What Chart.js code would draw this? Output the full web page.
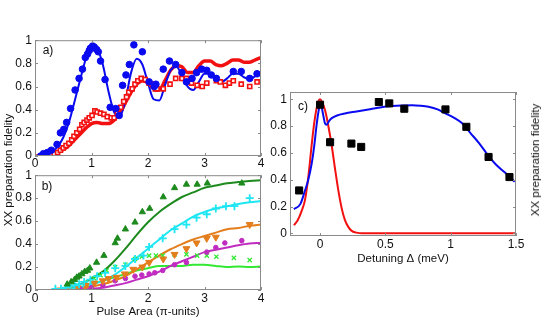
<!DOCTYPE html>
<html>
<head>
<meta charset="utf-8">
<script src="https://cdn.jsdelivr.net/npm/chart.js@4.4.0/dist/chart.umd.min.js"></script>
<style>
  body { margin: 0; width: 550px; height: 327px; background: #fff; position: relative; overflow: hidden;
         font-family: "Liberation Sans", Arial, sans-serif; color: #111; }
  canvas { position: absolute; }
  .lbl { position: absolute; font-size: 12px; transform: translate(-50%, -50%); white-space: nowrap; }
  .ytitle { position: absolute; font-size: 11.5px; white-space: nowrap; transform: translate(-50%, -50%) rotate(-90deg); }
</style>
</head>
<body>
<canvas id="chartA" width="270" height="140" style="left:0;top:30px"></canvas>
<canvas id="chartB" width="270" height="162" style="left:0;top:165px"></canvas>
<canvas id="chartC" width="300" height="190" style="left:250px;top:80px"></canvas>
<div class="ytitle" style="left:8px;top:170px">XX preparation fidelity</div>
<div class="ytitle" style="left:535px;top:160px">XX preparation fidelity</div>
<div class="lbl" style="left:48px;top:50px">a)</div>
<div class="lbl" style="left:47px;top:186px">b)</div>
<div class="lbl" style="left:303px;top:106px">c)</div>
<script>
// tick values
const pulseTicks = [0, 1, 2, 3, 4];
const detuningTicks = [0, 0.5, 1, 1.5];
const fidelityTicks = [0, 0.2, 0.4, 0.6, 0.8, 1];

// --- panel a: measured points and model curves (pulse area in pi-units)
const aBlueX = [0.1,0.15,0.22,0.29,0.39,0.45,0.51,0.56,0.63,0.71,0.78,0.84,0.89,0.93,0.96,0.98,1.02,1.05,1.09,1.12,1.16,1.24,1.33,1.43,1.49,1.55,1.61,1.67,1.75,1.9,2.02,2.11,2.14,2.27,2.38,2.49,2.6,2.68,2.78,2.86,2.95,3.04,3.12,3.21,3.51,3.65,3.8,3.93];
const aBlueY = [0.0,0.02,0.03,0.05,0.10,0.2,0.23,0.29,0.41,0.57,0.67,0.75,0.85,0.88,0.91,0.93,0.95,0.94,0.92,0.90,0.82,0.66,0.42,0.41,0.35,0.61,0.7,0.79,0.96,0.90,0.64,0.60,0.62,0.75,0.82,0.79,0.72,0.64,0.67,0.72,0.75,0.74,0.70,0.67,0.73,0.73,0.67,0.71];
const aRedX = [0.27,0.34,0.4,0.45,0.5,0.55,0.6,0.65,0.69,0.74,0.79,0.83,0.87,0.92,0.96,1.01,1.06,1.1,1.16,1.22,1.28,1.35,1.4,1.46,1.52,1.57,1.62,1.66,1.72,1.77,1.82,1.88,1.95,2.02,2.07,2.13,2.16,2.27,2.39,2.49,2.6,2.68,2.77,2.87,2.96,3.04,3.21,3.28,3.37,3.44,3.51,3.65,3.8,3.93];
const aRedY = [0.01,0.02,0.03,0.05,0.07,0.09,0.11,0.14,0.17,0.2,0.23,0.27,0.29,0.31,0.33,0.35,0.39,0.38,0.37,0.36,0.34,0.33,0.33,0.37,0.42,0.47,0.51,0.55,0.58,0.62,0.65,0.67,0.66,0.63,0.62,0.58,0.58,0.58,0.62,0.67,0.67,0.67,0.63,0.61,0.60,0.63,0.65,0.64,0.61,0.63,0.65,0.62,0.60,0.64];
const aLineX = [0,0.1,0.2,0.3,0.4,0.5,0.6,0.7,0.8,0.9,1.0,1.1,1.2,1.3,1.4,1.5,1.6,1.7,1.8,1.9,2.0,2.1,2.2,2.3,2.4,2.5,2.6,2.7,2.8,2.9,3.0,3.1,3.2,3.3,3.4,3.5,3.6,3.7,3.8,3.9,4.0];
const aBlueLine = [0,0,0.01,0.03,0.08,0.16,0.29,0.47,0.66,0.84,0.95,0.93,0.79,0.56,0.38,0.34,0.48,0.72,0.84,0.79,0.63,0.49,0.48,0.61,0.74,0.77,0.7,0.6,0.57,0.64,0.71,0.71,0.66,0.64,0.67,0.71,0.71,0.68,0.66,0.69,0.72];
const aRedLine = [0,0,0.005,0.015,0.03,0.055,0.09,0.14,0.19,0.24,0.28,0.29,0.28,0.28,0.31,0.37,0.46,0.55,0.62,0.65,0.63,0.58,0.57,0.65,0.74,0.78,0.77,0.72,0.72,0.78,0.82,0.82,0.79,0.78,0.8,0.83,0.83,0.81,0.81,0.83,0.85];

// --- panel b
const bGreenX = [0.57,0.64,0.7,0.74,0.78,0.83,0.88,0.93,0.97,1.09,1.22,1.42,1.46,1.6,1.77,1.9,2.03,2.27,2.47,2.68,2.87,3.05,3.66];
const bGreenY = [0.05,0.07,0.09,0.11,0.12,0.14,0.16,0.17,0.19,0.24,0.30,0.41,0.45,0.53,0.59,0.68,0.71,0.81,0.89,0.92,0.92,0.93,0.93];
const bCyanX = [0.36,0.46,0.55,0.63,0.7,0.78,0.87,0.98,1.1,1.24,1.42,1.6,1.77,1.92,2.02,2.26,2.47,2.68,2.86,3.04,3.2,3.38,3.53,3.8];
const bCyanY = [0.01,0.01,0.02,0.03,0.04,0.05,0.07,0.09,0.12,0.15,0.19,0.21,0.27,0.3,0.375,0.45,0.53,0.57,0.63,0.66,0.71,0.73,0.73,0.8];
const bOrangeX = [0.44,0.6,0.75,0.9,1.05,1.2,1.3,1.44,1.59,1.74,1.9,2.02,2.27,2.47,2.68,2.86,3.04,3.2,3.8];
const bOrangeY = [0.0,0.01,0.02,0.04,0.06,0.08,0.1,0.11,0.14,0.18,0.2,0.24,0.27,0.31,0.36,0.41,0.45,0.46,0.57];
const bMagentaX = [0.8,1.0,1.2,1.42,1.6,1.77,1.89,2.02,2.12,2.26,2.47,2.68,3.04,3.2,3.36,3.66];
const bMagentaY = [0.01,0.02,0.04,0.08,0.1,0.12,0.13,0.14,0.15,0.17,0.22,0.24,0.33,0.37,0.41,0.43];
const bLimeX = [0.6,0.75,0.9,1.05,1.16,1.27,1.42,1.6,1.77,1.89,2.02,2.14,2.26,2.47,2.68,2.87,3.04,3.21,3.52,3.8];
const bLimeY = [0.02,0.04,0.07,0.1,0.13,0.17,0.2,0.22,0.27,0.29,0.3,0.3,0.3,0.31,0.31,0.3,0.3,0.29,0.28,0.26];
const bLineX = [0,0.2,0.4,0.6,0.8,1.0,1.2,1.4,1.6,1.8,2.0,2.2,2.4,2.6,2.8,3.0,3.2,3.4,3.6,3.8,4.0];
const bGreenLine = [0,0,0.005,0.02,0.05,0.1,0.16,0.25,0.36,0.48,0.59,0.68,0.75,0.81,0.85,0.89,0.91,0.93,0.94,0.95,0.955];
const bCyanLine = [0,0,0.002,0.01,0.025,0.05,0.08,0.13,0.2,0.28,0.36,0.44,0.52,0.58,0.64,0.68,0.71,0.73,0.75,0.765,0.775];
const bOrangeLine = [0,0,0,0.005,0.015,0.03,0.05,0.08,0.12,0.18,0.24,0.3,0.355,0.4,0.44,0.47,0.5,0.53,0.54,0.56,0.57];
const bMagentaLine = [0,0,0,0,0.005,0.01,0.02,0.04,0.06,0.09,0.12,0.16,0.21,0.25,0.29,0.33,0.35,0.37,0.39,0.405,0.41];
const bLimeLine = [0,0,0.002,0.01,0.025,0.05,0.08,0.11,0.14,0.17,0.19,0.21,0.21,0.21,0.22,0.22,0.21,0.2,0.205,0.2,0.205];

// --- panel c (detuning in meV)
const cSquareX = [-0.16,0,0.077,0.24,0.315,0.45,0.53,0.645,0.96,1.12,1.29,1.45];
const cSquareY = [0.32,0.96,0.68,0.67,0.645,0.98,0.97,0.93,0.925,0.795,0.57,0.42];
const cBlueX = [-0.2,-0.15,-0.115,-0.09,-0.064,-0.045,-0.025,-0.01,0,0.01,0.025,0.038,0.05,0.07,0.09,0.13,0.19,0.28,0.37,0.46,0.55,0.63,0.705,0.77,0.83,0.9,0.96,1.03,1.09,1.15,1.22,1.28,1.35,1.42,1.49];
const cBlueY = [0.18,0.22,0.32,0.4,0.52,0.65,0.82,0.92,0.96,0.95,0.88,0.82,0.81,0.84,0.86,0.88,0.895,0.91,0.925,0.94,0.95,0.955,0.957,0.953,0.945,0.925,0.895,0.86,0.82,0.75,0.67,0.59,0.51,0.45,0.385];
const cRedX = [-0.2,-0.17,-0.14,-0.115,-0.09,-0.064,-0.045,-0.025,-0.01,0,0.015,0.038,0.06,0.09,0.115,0.14,0.165,0.19,0.215,0.24,0.28,0.32,0.4,0.6,0.8,1.0,1.2,1.5];
const cRedY = [0.06,0.1,0.17,0.25,0.42,0.66,0.82,0.94,0.99,1.0,0.98,0.92,0.82,0.65,0.48,0.32,0.19,0.1,0.05,0.02,0.005,0,0,0,0,0,0,0];

const pts = (xs, ys) => xs.map((x, i) => ({ x, y: ys[i] }));

Chart.defaults.font.family = '"Liberation Sans", Arial, sans-serif';
Chart.defaults.font.size = 12;
Chart.defaults.color = '#111';
Chart.defaults.animation = false;

// MATLAB-like box with inward ticks on all four sides
const boxFrame = {
  id: 'boxFrame',
  afterDatasetsDraw(chart) {
    const { ctx, chartArea: a, scales: { x, y } } = chart;
    ctx.save();
    ctx.strokeStyle = '#8a8a8a';
    ctx.lineWidth = 1;
    ctx.strokeRect(a.left + 0.5, a.top + 0.5, a.width - 1, a.height - 1);
    ctx.beginPath();
    x.ticks.forEach(t => {
      const p = Math.round(x.getPixelForValue(t.value)) + 0.5;
      ctx.moveTo(p, a.bottom); ctx.lineTo(p, a.bottom - 3);
      ctx.moveTo(p, a.top); ctx.lineTo(p, a.top + 3);
    });
    y.ticks.forEach(t => {
      const p = Math.round(y.getPixelForValue(t.value)) + 0.5;
      ctx.moveTo(a.left, p); ctx.lineTo(a.left + 3, p);
      ctx.moveTo(a.right, p); ctx.lineTo(a.right - 3, p);
    });
    ctx.stroke();
    ctx.restore();
  }
};

const useTicks = values => scale => { scale.ticks = values.map(value => ({ value })); };
const fmt = v => String(+Number(v).toFixed(2));

function scatterSet(data, color, style, radius, extra) {
  return Object.assign({ data, showLine: false, pointStyle: style, pointRadius: radius,
    backgroundColor: color, borderColor: color, borderWidth: 1 }, extra || {});
}
function lineSet(data, color, width) {
  return { data, showLine: true, pointRadius: 0, borderColor: color, borderWidth: width,
    cubicInterpolationMode: 'monotone', fill: false };
}

function makeChart(id, datasets, ax) {
  return new Chart(document.getElementById(id), {
    type: 'scatter',
    data: { datasets },
    plugins: [boxFrame],
    options: {
      responsive: false,
      events: [],
      layout: { padding: ax.padding },
      plugins: { legend: { display: false }, tooltip: { enabled: false } },
      scales: {
        x: {
          type: 'linear', min: ax.xMin, max: ax.xMax,
          grid: { display: false, drawTicks: false }, border: { display: false },
          ticks: { padding: ax.xPad, maxRotation: 0, color: '#111', callback: fmt, autoSkip: false },
          afterBuildTicks: useTicks(ax.xTicks),
          title: { display: !!ax.xTitle, text: ax.xTitle, color: '#111', font: { size: 11.5 }, padding: { top: 0, bottom: 0 } },
          afterFit: s => { s.height = ax.xHeight; }
        },
        y: {
          type: 'linear', min: ax.yMin, max: ax.yMax,
          grid: { display: false, drawTicks: false }, border: { display: false },
          ticks: { padding: 3, color: '#111', callback: fmt, autoSkip: false },
          afterBuildTicks: useTicks(fidelityTicks),
          afterFit: s => { s.width = ax.yWidth; }
        }
      }
    }
  });
}

const BLUE = '#0a0af0', RED = '#f21010';

makeChart('chartA', [
  scatterSet(pts(aBlueX, aBlueY), BLUE, 'circle', 3.3),
  scatterSet(pts(aRedX, aRedY), RED, 'rect', 2.9, { backgroundColor: '#fff0f0', borderWidth: 1.6 }),
  lineSet(pts(aLineX, aBlueLine), BLUE, 2),
  lineSet(pts(aLineX, aRedLine), RED, 3.5)
], { xMin: 0, xMax: 4, xTicks: pulseTicks, yMin: 0, yMax: 1, xPad: 0, xHeight: 14, yWidth: 35,
     padding: { left: 0, top: 9, right: 9, bottom: 0 } });

makeChart('chartB', [
  scatterSet(pts(bGreenX, bGreenY), '#1d8a1d', 'triangle', 3.6),
  scatterSet(pts(bCyanX, bCyanY), '#1ee6f2', 'cross', 4, { borderWidth: 1.8 }),
  scatterSet(pts(bOrangeX, bOrangeY), '#e47d1c', 'triangle', 4, { rotation: 180 }),
  scatterSet(pts(bMagentaX, bMagentaY), '#c02cc0', 'circle', 2.3),
  scatterSet(pts(bLimeX, bLimeY), '#33e833', 'crossRot', 3, { borderWidth: 1.3 }),
  lineSet(pts(bLineX, bGreenLine), '#1d8a1d', 2),
  lineSet(pts(bLineX, bCyanLine), '#1ee6f2', 2),
  lineSet(pts(bLineX, bOrangeLine), '#e47d1c', 2),
  lineSet(pts(bLineX, bMagentaLine), '#c02cc0', 2),
  lineSet(pts(bLineX, bLimeLine), '#33e833', 2)
], { xMin: 0, xMax: 4, xTicks: pulseTicks, yMin: 0, yMax: 1, xPad: 1, xHeight: 29, yWidth: 35,
     xTitle: 'Pulse Area (\u03c0-units)', padding: { left: 0, top: 8, right: 9, bottom: 8 } });

makeChart('chartC', [
  scatterSet(pts(cSquareX, cSquareY), '#000', 'rect', 5),
  lineSet(pts(cBlueX, cBlueY), BLUE, 2),
  lineSet(pts(cRedX, cRedY), RED, 2)
], { xMin: -0.23, xMax: 1.5, xTicks: detuningTicks, yMin: -0.02, yMax: 1.055, xPad: 1, xHeight: 30, yWidth: 40,
     xTitle: 'Detuning \u0394 (meV)', padding: { left: 0, top: 12, right: 34, bottom: 4 } });
</script>
</body>
</html>
